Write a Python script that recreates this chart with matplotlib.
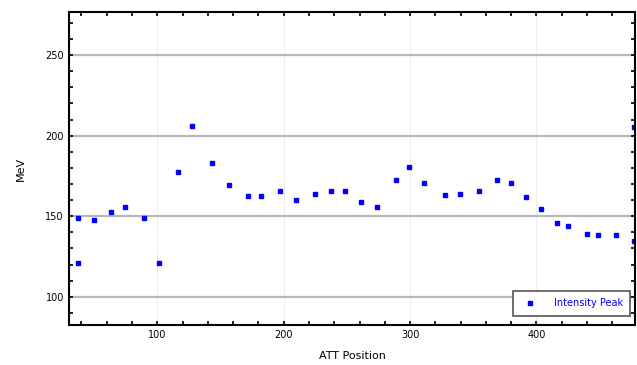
import matplotlib
matplotlib.use("Agg")
import matplotlib.pyplot as plt
from matplotlib.ticker import MultipleLocator

# values
pos = [37.5, 37.5, 49.6, 63.3, 74.7, 89.2, 101.6, 116.4, 127.5, 143.3, 157.0,
       171.8, 182.3, 196.8, 210.0, 225.0, 237.8, 248.3, 261.0, 274.0, 289.0,
       299.0, 311.4, 328.0, 339.4, 354.4, 368.8, 379.9, 391.4, 403.2, 416.4,
       425.0, 439.7, 448.9, 462.6, 477.1, 477.1]
peak = [121.1, 149.2, 147.7, 152.5, 155.6, 149.2, 121.1, 177.5, 205.8, 182.9,
        169.3, 162.5, 162.5, 165.6, 160.1, 164.1, 165.6, 165.6, 158.8, 155.8,
        172.5, 180.8, 170.9, 162.9, 164.1, 165.7, 172.5, 170.7, 162.2, 154.2,
        145.7, 144.0, 139.1, 138.2, 138.2, 134.5, 205.6]

fig = plt.figure(figsize=(6.37, 3.65), dpi=100)
ax = fig.add_axes([0.108, 0.110, 0.889, 0.857])

ax.plot(pos, peak, ls='none', marker='s', ms=3, color='#0000ff',
        mec='#0000ff', label='Intensity Peak')

ax.set_xlim(30, 478)
ax.set_ylim(82.6, 276.7)

ax.xaxis.set_major_locator(MultipleLocator(100))
ax.xaxis.set_minor_locator(MultipleLocator(20))
ax.yaxis.set_major_locator(MultipleLocator(50))
ax.yaxis.set_minor_locator(MultipleLocator(10))

ax.grid(axis='y', which='major', color='#b8b8b8', lw=1.6)
ax.grid(axis='x', which='major', color='#eeeeee', lw=0.8)
ax.set_axisbelow(True)

ax.tick_params(which='both', direction='in', top=True, right=True,
               labelsize=7, width=1.2, length=3)
for s in ax.spines.values():
    s.set_linewidth(1.5)

ax.set_xlabel('ATT Position', fontsize=8, labelpad=8)
ax.set_ylabel('MeV', fontsize=8, labelpad=14)

leg = ax.legend(loc='lower right', bbox_to_anchor=(0.991, 0.029),
                borderaxespad=0, fontsize=7, fancybox=False,
                framealpha=1, edgecolor='#555555', borderpad=0.75,
                handletextpad=1.4, markerscale=0.8)
for t in leg.get_texts():
    t.set_color('#0000ff')
leg.get_frame().set_linewidth(1.2)

fig.savefig('out.png', dpi=100)
